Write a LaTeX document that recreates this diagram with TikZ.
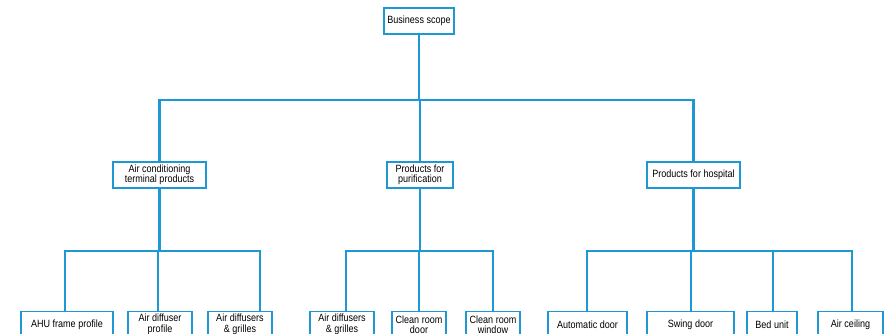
\documentclass[tikz,border=0pt]{standalone}
\usepackage{fontspec}
\setmainfont[FakeStretch=0.86]{Liberation Sans}
\definecolor{lineblue}{RGB}{30,152,212}
\begin{document}
\begin{tikzpicture}[x=1pt,y=1pt,
  box/.style={draw=lineblue,line width=1.8pt,fill=white,inner sep=0pt,align=center,
    minimum height=26pt,font=\fontsize{10.5}{10.5}\selectfont},
  conn/.style={draw=lineblue,line width=2.2pt}]
\clip (0,0) rectangle (888,-334);
\useasboundingbox (0,0) rectangle (888,-334);
% level 1
\node[box,minimum width=70pt] (top) at (419,-21) {Business scope};
% level 2
\node[box,minimum width=93pt] (a) at (159.5,-175) {Air conditioning\\terminal products};
\node[box,minimum width=66pt] (b) at (420,-175) {Products for\\purification};
\node[box,minimum width=93pt] (c) at (693.5,-175) {Products for hospital};
% level 3
\node[box,minimum width=92pt] (l1) at (67,-324.5) {AHU frame profile};
\node[box,minimum width=64pt] (l2) at (160,-324.5) {Air diffuser\\profile};
\node[box,minimum width=64pt] (l3) at (240,-324.5) {Air diffusers\\\& grilles};
\node[box,minimum width=64pt] (m1) at (342,-324.5) {Air diffusers\\\& grilles};
\node[box,minimum width=54pt] (m2) at (419,-324.5) {Clean room\\door};
\node[box,minimum width=54pt] (m3) at (493,-324.5) {Clean room\\window};
\node[box,minimum width=79pt] (r1) at (587.5,-324.5) {Automatic door};
\node[box,minimum width=87pt] (r2) at (690.5,-324.5) {Swing door};
\node[box,minimum width=50pt] (r3) at (772,-324.5) {Bed unit};
\node[box,minimum width=65pt] (r4) at (850.5,-324.5) {Air ceiling};
% bar coordinates
\coordinate (bar1) at (0,-100);
\coordinate (dl1) at (65,-251);
\coordinate (dl2) at (158,-251);
\coordinate (dl3) at (260,-251);
\coordinate (dm1) at (346,-251);
\coordinate (dm2) at (419,-251);
\coordinate (dm3) at (493,-251);
\coordinate (dr1) at (587,-251);
\coordinate (dr2) at (691,-251);
\coordinate (dr3) at (773,-251);
\coordinate (dr4) at (852,-251);
% level 1 -> 2
\draw[conn] (top.south) -- (top.south |- bar1);
\draw[conn] (a.north) -- (a.north |- bar1) -- (c.north |- bar1) -- (c.north);
\draw[conn] (b.north) -- (b.north |- bar1);
% level 2 -> 3
\draw[conn] (a.south) -- (a.south |- dl1);
\draw[conn] (dl1 |- l1.north) -- (dl1) -- (dl3) -- (dl3 |- l3.north);
\draw[conn] (dl2) -- (dl2 |- l2.north);
\draw[conn] (b.south) -- (b.south |- dm1);
\draw[conn] (dm1 |- m1.north) -- (dm1) -- (dm3) -- (dm3 |- m3.north);
\draw[conn] (dm2) -- (dm2 |- m2.north);
\draw[conn] (c.south) -- (c.south |- dr1);
\draw[conn] (dr1 |- r1.north) -- (dr1) -- (dr4) -- (dr4 |- r4.north);
\draw[conn] (dr2) -- (dr2 |- r2.north);
\draw[conn] (dr3) -- (dr3 |- r3.north);
\end{tikzpicture}
\end{document}
